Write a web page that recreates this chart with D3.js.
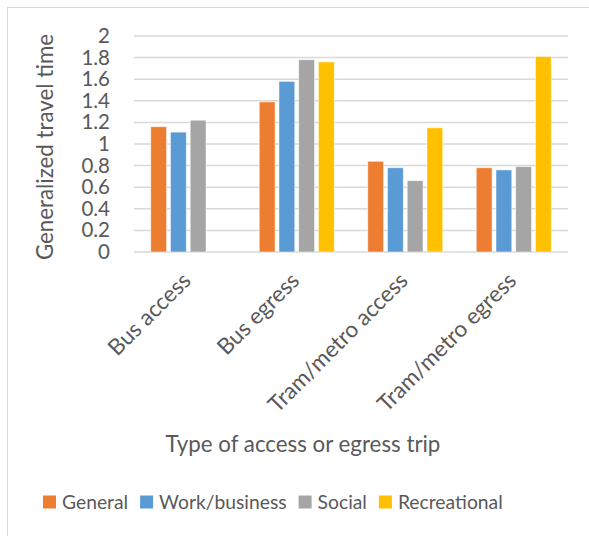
<!DOCTYPE html>
<html>
<head>
<meta charset="utf-8">
<script src="https://cdn.jsdelivr.net/npm/d3@7"></script>
<style>
  html, body { margin: 0; padding: 0; background: #fff; }
  svg text { font-family: Lato, "Open Sans", sans-serif; fill: #595959; }
</style>
</head>
<body>
<svg id="chart" width="589" height="536"></svg>
<script>
// Trip types along the x axis
const categories = ["Bus access", "Bus egress", "Tram/metro access", "Tram/metro egress"];
// Trip purposes (one bar each per category)
const series = ["General", "Work/business", "Social", "Recreational"];
const colors = ["#ED7D31", "#5B9BD5", "#A5A5A5", "#FFC000"];
// Generalized travel time per purpose, in category order (null = no bar)
const general      = [1.16, 1.39, 0.84, 0.78];
const workBusiness = [1.11, 1.58, 0.78, 0.76];
const social       = [1.22, 1.78, 0.66, 0.79];
const recreational = [null, 1.76, 1.15, 1.81];
const yTicks = [0, 0.2, 0.4, 0.6, 0.8, 1, 1.2, 1.4, 1.6, 1.8, 2];
const yTickLabels = ["0", "0.2", "0.4", "0.6", "0.8", "1", "1.2", "1.4", "1.6", "1.8", "2"];

const values = [general, workBusiness, social, recreational];

const svg = d3.select("#chart");

// Outer chart frame
svg.append("rect")
  .attr("x", 7.5).attr("y", 7.5)
  .attr("width", 620).attr("height", 620)
  .attr("fill", "none").attr("stroke", "#D9D9D9").attr("stroke-width", 1);

const plot = { left: 134, right: 568, top: 36, bottom: 252 };

const x0 = d3.scaleBand().domain(categories).range([plot.left, plot.right]).padding(0);
const x1 = d3.scaleBand().domain(series).range([0, x0.bandwidth()])
  .paddingInner(0.2).paddingOuter(0.85);
const y = d3.scaleLinear().domain([0, 2]).range([plot.bottom, plot.top]);

// Horizontal gridlines
svg.append("g")
  .selectAll("line")
  .data(yTicks)
  .join("line")
  .attr("x1", plot.left).attr("x2", plot.right)
  .attr("y1", d => y(d)).attr("y2", d => y(d))
  .attr("stroke", "#D9D9D9").attr("stroke-width", 1.5);

// Y axis labels
const yAxis = d3.axisLeft(y).tickValues(yTicks)
  .tickFormat((d, i) => yTickLabels[i]).tickSize(0).tickPadding(0);
const yg = svg.append("g").attr("transform", `translate(${plot.left - 24},0)`).call(yAxis);
yg.select(".domain").remove();
yg.selectAll("text").attr("font-size", 20.5).attr("font-family", "Lato").attr("fill", "#595959");

// Bars
const groups = svg.append("g")
  .selectAll("g")
  .data(categories)
  .join("g")
  .attr("transform", d => `translate(${x0(d)},0)`);

groups.selectAll("rect")
  .data((c, ci) => series.map((s, si) => ({ s, si, v: values[si][ci] })).filter(d => d.v != null))
  .join("rect")
  .attr("x", d => x1(d.s))
  .attr("width", x1.bandwidth())
  .attr("y", d => y(d.v))
  .attr("height", d => y(0) - y(d.v))
  .attr("fill", d => colors[d.si])
  .attr("stroke", "#fff").attr("stroke-width", 0.8).attr("stroke-opacity", 0.6);

// Category labels, rotated
const xAxis = d3.axisBottom(x0).tickSize(0).tickPadding(0);
const xg = svg.append("g").attr("transform", `translate(0,${plot.bottom})`).call(xAxis);
xg.select(".domain").remove();
xg.selectAll("text")
  .attr("font-size", 22.5).attr("font-family", "Lato").attr("fill", "#595959")
  .attr("text-anchor", "end")
  .attr("dy", null).attr("y", 0)
  .attr("transform", "translate(4,30) rotate(-45)");

// Axis titles
svg.append("text")
  .attr("transform", `translate(53,${(plot.top + plot.bottom) / 2 + 3}) rotate(-90)`)
  .attr("text-anchor", "middle")
  .attr("font-size", 22.3)
  .text("Generalized travel time");

svg.append("text")
  .attr("x", 303).attr("y", 452)
  .attr("text-anchor", "middle")
  .attr("font-size", 22.3)
  .text("Type of access or egress trip");

// Legend
const legend = svg.append("g").attr("transform", "translate(43,502)");
let lx = 0;
series.forEach((s, i) => {
  const g = legend.append("g").attr("transform", `translate(${lx},0)`);
  g.append("rect").attr("x", 0).attr("y", -6.5).attr("width", 13).attr("height", 13).attr("fill", colors[i]);
  const t = g.append("text").attr("x", 19).attr("y", 7).attr("font-size", 19.3).text(s);
  lx += 19 + t.node().getComputedTextLength() + 12;
});
</script>
</body>
</html>
